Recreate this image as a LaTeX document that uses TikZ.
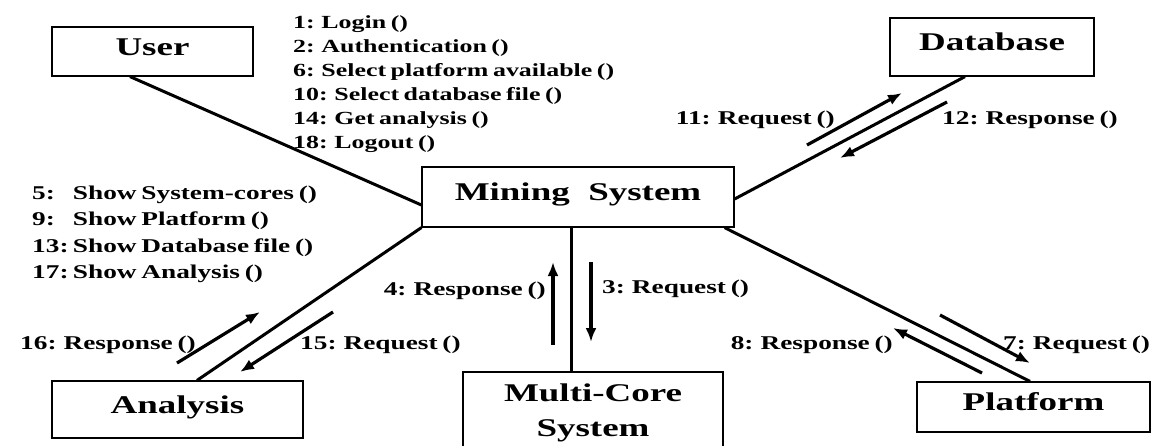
\documentclass[tikz,border=0pt]{standalone}
\usepackage{fontspec}
\newfontfamily\msgfont{Liberation Serif}[FakeStretch=1.40,WordSpace=0.7]
\newfontfamily\boxfont{Liberation Serif}[FakeStretch=1.45]
\usetikzlibrary{arrows.meta}
\begin{document}
\begin{tikzpicture}[x=1pt,y=-1pt,
  objbase/.style={draw, line width=1.2pt, inner sep=0pt, anchor=center},
  obj/.style={objbase, font=\boxfont\bfseries\fontsize{25.5}{30}\selectfont, text height=17pt, text depth=10pt},
  link/.style={line width=3pt},
  msgarrow/.style={line width=3.2pt, -{Latex[length=14pt,width=11pt]}},
  msg/.style={font=\msgfont\bfseries\fontsize{19.5}{24}\selectfont, inner sep=0pt},
  topmsg/.style={font=\msgfont\bfseries\fontsize{18.5}{24}\selectfont, inner sep=0pt},
]
\useasboundingbox (0,0) rectangle (1153,445);

% objects
\node[obj, minimum width=201pt, minimum height=49pt] (user) at (152.5,51.5) {User};
\node[obj, minimum width=204pt, minimum height=58pt] (db) at (992,47) {Database};
\node[obj, minimum width=312pt, minimum height=60pt] (mining) at (578,197) {Mining\ \ System};
\node[obj, minimum width=251pt, minimum height=57pt] (analysis) at (177.5,409.5) {Analysis};
\node[obj, minimum width=233pt, minimum height=50pt] (platform) at (1033.5,407) {Platform};
\node[objbase, minimum width=260pt, minimum height=81pt, align=center,
      font=\boxfont\bfseries\fontsize{25.5}{35}\selectfont] (multi) at (593,412.5) {Multi-Core\\System};

% message texts
\foreach \t [count=\i from 0] in {1: Login (), 2: Authentication (), 6: Select platform available (), 10: Select database file (), 14: Get analysis (), 18: Logout ()}
  \node[topmsg, anchor=base west] (top\i) at (293,{28.5+24*\i}) {\t};
\foreach \n/\t [count=\i from 0] in {5:/Show System-cores (), 9:/Show Platform (), 13:/Show Database file (), 17:/Show Analysis ()}
  \node[msg, anchor=base west] (left\i) at (32,{199.5+26.3*\i}) {\makebox[36pt][l]{\n}\ \t};

\node[msg, anchor=base east] (m4) at (546,295) {4: Response ()};
\node[msg, anchor=base west] (m3) at (602,293) {3: Request ()};
\node[msg, anchor=base west] (m16) at (20,349) {16: Response ()};
\node[msg, anchor=base west] (m15) at (300,349) {15: Request ()};
\node[msg, anchor=base east] (m11) at (835,124) {11: Request ()};
\node[msg, anchor=base west] (m12) at (942,124) {12: Response ()};
\node[msg, anchor=base east] (m8) at (893,349) {8: Response ()};
\node[msg, anchor=base west] (m7) at (1003,349) {7: Request ()};

% links
\draw[link] ([xshift=-22.5pt]user.south) -- ([yshift=-8pt]mining.west);
\draw[link] ([xshift=19.5pt]analysis.north) -- (mining.south west);
\draw[link] ([xshift=-22pt]multi.north) -- ([xshift=-22pt]multi.north |- mining.south);
\draw[link] ([xshift=-27pt]db.south) -- ([yshift=-2pt]mining.east);
\draw[link] ([xshift=-3.5pt]platform.north) -- ([xshift=-10pt]mining.south east);

% message arrows
\coordinate (a16s) at (177,363); \coordinate (a16e) at (260,312);
\coordinate (a15s) at (333,312); \coordinate (a15e) at (240,372);
\coordinate (a4s) at (553,345);  \coordinate (a4e) at (553,262);
\coordinate (a3s) at (591,262);  \coordinate (a3e) at (591,342);
\coordinate (a11s) at (807,145); \coordinate (a11e) at (902,93);
\coordinate (a12s) at (947,102); \coordinate (a12e) at (840,158);
\coordinate (a7s) at (940,315);  \coordinate (a7e) at (1030,363);
\coordinate (a8s) at (982,373);  \coordinate (a8e) at (893,328);
\foreach \a in {16,15,4,3,11,12,7,8}
  \draw[msgarrow] (a\a s) -- (a\a e);
\end{tikzpicture}
\end{document}
